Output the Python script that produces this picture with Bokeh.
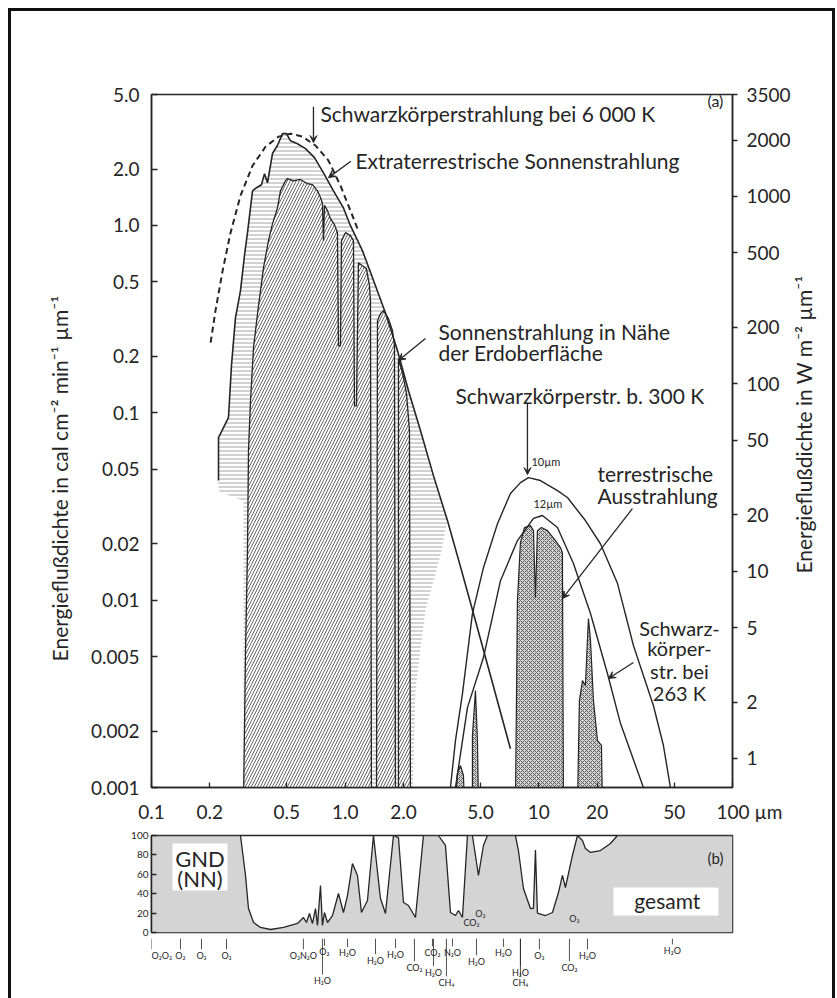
import math
from bokeh.plotting import figure
from bokeh.models import (Range1d, LogScale, LogAxis, FixedTicker, Label,
                          Arrow, VeeHead, BoxAnnotation, ColumnDataSource)
from bokeh.layouts import column
from bokeh.core.properties import value
from bokeh.embed import file_html
from bokeh.resources import INLINE

INK = "#252525"
FONT = "Lato"
W_PER_CAL = 700.0      # 1 cal cm^-2 min^-1 ~ 700 W m^-2
BASE = 0.0008          # "no flux" level, just below the axis floor
NB = "\u00a0"

# ---------------- spectra (wavelength in um, flux in cal cm^-2 min^-1 um^-1) ----------------
bb6000_wl = [0.202, 0.214, 0.233, 0.256, 0.288, 0.332, 0.388, 0.453, 0.522, 0.602, 0.703,
             0.820, 0.946, 1.065, 1.158]
bb6000_val = [0.237, 0.351, 0.574, 0.915, 1.44, 2.08, 2.63, 2.98, 3.09, 2.98, 2.67,
              2.22, 1.63, 1.20, 0.961]

extra_wl = [0.2218, 0.2218, 0.2497, 0.2527, 0.2588, 0.2715, 0.2881, 0.302, 0.3131, 0.3324,
            0.3484, 0.3697, 0.3833, 0.3972, 0.4214, 0.4470, 0.4746, 0.4977, 0.5219, 0.5673,
            0.6237, 0.6944, 0.7727, 0.8700, 0.9800, 1.065, 1.228, 1.434, 1.634, 1.862,
            2.123, 2.448, 2.857, 3.374, 3.938, 4.596, 5.626, 7.136]
extra_val = [0.0435, 0.0737, 0.0943, 0.116, 0.179, 0.322, 0.449, 0.690, 0.915, 1.53,
             1.59, 1.65, 1.89, 1.69, 2.42, 2.67, 3.09, 3.09, 2.83, 2.73,
             2.57, 2.30, 1.91, 1.53, 1.24, 0.997, 0.734, 0.477, 0.330, 0.215,
             0.131, 0.0804, 0.0462, 0.0266, 0.0151, 0.00848, 0.00396, 0.00161]

# lower edge of the hatched extraterrestrial surplus
extra_lower_wl = [3.105, 2.598, 2.307, 2.226, 0.2985, 0.2985, 0.2651, 0.2218]
extra_lower_val = [0.0173, 0.0088, 0.00329, BASE, BASE, 0.0340, 0.0353, 0.0384]

surface_wl = [0.2985, 0.3058, 0.3131, 0.3168, 0.3245, 0.3364, 0.3527, 0.3788, 0.4018, 0.4214,
              0.4470, 0.4634, 0.4918, 0.5036, 0.5410, 0.5877, 0.6389, 0.6781, 0.7194, 0.7458,
              0.7633, 0.7727, 0.7818, 0.8104, 0.8399, 0.8806, 0.9124, 0.9235, 0.9456, 0.9570,
              1.0035, 1.0650, 1.1037, 1.117, 1.144, 1.171, 1.228, 1.288, 1.335, 1.351,
              1.367, 1.451, 1.4685, 1.5217, 1.5771, 1.673, 1.755, 1.797, 1.8186, 1.8845,
              1.8845, 1.976, 2.073, 2.148, 2.1733]
surface_val = [BASE, 0.00538, 0.0184, 0.0629, 0.116, 0.223, 0.338, 0.596, 0.830, 1.02,
               1.24, 1.53, 1.73, 1.78, 1.73, 1.76, 1.67, 1.65, 1.53, 1.41,
               1.31, 0.830, 1.28, 1.20, 1.087, 1.01, 0.915, 0.228, 0.228, 0.830,
               0.915, 0.882, 0.830, 0.109, 0.109, 0.633, 0.610, 0.588, 0.477, 0.397,
               BASE, BASE, 0.310, 0.338, 0.351, 0.318, 0.275, 0.228, BASE, BASE,
               0.195, 0.164, 0.127, 0.0804, BASE]

terr_wl = [[3.711, 3.80, 3.938, 4.081, 4.13],
           [4.541, 4.541, 4.707, 4.82, 4.878],
           [7.5716, 7.7536, 8.035, 8.43, 9.05, 9.38, 9.607, 9.835, 10.31, 11.08, 12.18, 12.93,
            13.24, 13.40],
           [15.83, 16.20, 16.80, 17.40, 17.82, 18.04, 18.48, 19.14, 20.08, 21.05, 21.30]]
terr_val = [[BASE, 0.0012, 0.00131, 0.00116, BASE],
            [BASE, 0.0019, 0.00329, 0.00178, BASE],
            [BASE, 0.00995, 0.0203, 0.0244, 0.0250, 0.0235, 0.0103, 0.0235, 0.0244, 0.0235,
             0.0208, 0.0191, 0.0179, BASE],
            [BASE, 0.00291, 0.00372, 0.0035, 0.00609, 0.00798, 0.00609, 0.00291, 0.00178,
             0.00168, BASE]]

bb300_wl = [3.4975, 3.711, 4.033, 4.541, 5.176, 6.115, 7.136, 8.035, 8.840, 10.19, 12.48,
            14.05, 17.40, 20.80, 25.47, 30.79, 39.04, 43.97, 47.80]
bb300_val = [0.001, 0.00178, 0.00317, 0.00848, 0.0149, 0.0256, 0.0371, 0.0424, 0.0451, 0.0435,
             0.0384, 0.0353, 0.0266, 0.0200, 0.0123, 0.00573, 0.00274, 0.00168, 0.001]

bb263_wl = [3.711, 4.280, 5.176, 6.339, 7.754, 9.3815, 10.44, 12.48, 15.09, 18.48, 22.61,
            26.39, 34.67]
bb263_val = [0.001, 0.00267, 0.00494, 0.0127, 0.0208, 0.0273, 0.0283, 0.0244, 0.0157, 0.00848,
             0.00406, 0.00220, 0.001]

x_ticks = [0.1, 0.2, 0.5, 1, 2, 5, 10, 20, 50, 100]
x_tick_labels = ["0.1", "0.2", "0.5", "1.0", "2.0", "5.0", "10", "20", "50", NB * 7 + "100 µm"]
y_ticks = [0.001, 0.002, 0.005, 0.01, 0.02, 0.05, 0.1, 0.2, 0.5, 1, 2, 5]
y_tick_labels = ["0.001", "0.002", "0.005", "0.01", "0.02", "0.05", "0.1", "0.2", "0.5",
                 "1.0", "2.0", "5.0"]
w_ticks = [1, 2, 5, 10, 20, 50, 100, 200, 500, 1000, 2000, 3500]

# ---------------- atmospheric absorption (%) ----------------
absorb_wl = [0.1, 0.2881, 0.3058, 0.3168, 0.3364, 0.3655, 0.4116, 0.4803, 0.5673, 0.6092,
             0.6311, 0.6540, 0.6781, 0.7027, 0.7194, 0.7458, 0.7633, 0.7818, 0.8104, 0.8600,
             0.9235, 0.9800, 1.028, 1.0906, 1.1575, 1.214, 1.3038, 1.400, 1.5217, 1.6150,
             1.7758, 1.8845, 2.000, 2.1225, 2.3068, 2.5367, 3.0317, 3.2950, 3.4975, 3.711,
             3.846, 4.033, 4.2796, 4.5412, 4.8782, 5.1763, 5.4283, 7.5716, 7.8466, 8.3278,
             9.0523, 9.38, 9.607, 9.835, 10.82, 11.76, 12.63, 13.24, 13.72, 14.91,
             15.83, 16.80, 17.40, 18.48, 20.80, 23.43, 25.47, 100]
absorb_pct = [100, 100, 58.8, 24.7, 10.3, 5.2, 3.1, 5.2, 9.3, 15.5,
              10.3, 19.6, 9.3, 24.7, 7.2, 48.5, 7.2, 20.6, 10.3, 17.5,
              40.2, 20.6, 38.1, 71.1, 58.8, 20.6, 33.0, 100, 35.1, 19.6,
              100, 97.9, 30.9, 27.8, 15.5, 100, 100, 89.7, 20.6, 17.5,
              22.7, 15.5, 100, 100, 58.8, 89.7, 100, 100, 84.5, 45.4,
              24.7, 25, 85, 20, 17.5, 20.6, 41.2, 58.8, 46.4, 79.4,
              100, 94.8, 86.6, 82.5, 84.5, 91.8, 100, 100]

# absorbing gases below the panel: name, wavelength, row height, anchor
gas_names = ["O₂O₃", "O₂", "O₃", "O₃", "O₃N₂O", "O₂", "H₂O", "H₂O", "H₂O", "H₂O", "CO₂",
             "CO₂", "N₂O", "H₂O", "CH₄", "H₂O", "H₂O", "H₂O", "CH₄", "O₃", "CO₂", "H₂O", "H₂O"]
gas_wl = [0.1, 0.1411, 0.1812, 0.2439, 0.6086, 0.7818, 0.7633, 1.028, 1.434, 1.8186, 2.279,
          2.823, 3.581, 2.857, 3.334, 4.764, 6.566, 8.035, 8.035, 10.07, 14.39, 17.82, 48.95]
gas_row = [0.72, 0.72, 0.72, 0.72, 0.72, 0.78, 0.30, 0.76, 0.64, 0.74, 0.52,
           0.77, 0.77, 0.44, 0.27, 0.62, 0.76, 0.44, 0.27, 0.72, 0.52, 0.72, 0.80]
gas_align = ["left"] + ["center"] * 22
gas_in_names = ["CO₂", "O₃", "O₃"]
gas_in_wl = [4.487, 4.995, 15.27]
gas_in_pct = [10.3, 19.6, 14.4]


def style_axis(ax, size="19px"):
    ax.axis_line_color = INK
    ax.axis_line_width = 1.5
    ax.major_tick_line_color = INK
    ax.major_tick_line_width = 1.3
    ax.minor_tick_line_color = None
    ax.major_label_text_font = FONT
    ax.major_label_text_font_size = size
    ax.major_label_text_color = INK
    ax.axis_label_text_font = FONT
    ax.axis_label_text_font_style = "normal"
    ax.axis_label_text_color = INK


# ---------------- main panel (a) ----------------
p = figure(width=837, height=830, x_axis_type="log", y_axis_type="log",
           x_range=Range1d(0.1, 100), y_range=Range1d(0.001, 5.0),
           output_backend="svg", toolbar_location=None,
           min_border_left=151, min_border_right=105, min_border_top=94, min_border_bottom=43)
p.grid.visible = False
p.outline_line_color = INK
p.outline_line_width = 1.5
p.background_fill_color = "white"
p.border_fill_color = "white"

xa = p.xaxis[0]
style_axis(xa)
xa.ticker = FixedTicker(ticks=x_ticks, minor_ticks=[])
xa.major_label_overrides = dict(zip(x_ticks, x_tick_labels))
xa.major_tick_in = 5
xa.major_tick_out = 0
xa.major_label_standoff = 12

ya = p.yaxis[0]
style_axis(ya)
ya.ticker = FixedTicker(ticks=y_ticks, minor_ticks=[])
ya.major_label_overrides = dict(zip(y_ticks, y_tick_labels))
ya.major_tick_in = 6
ya.major_tick_out = 0
ya.major_label_standoff = 12
ya.axis_label = "Energieflußdichte in cal cm⁻² min⁻¹ µm⁻¹" + NB * 14
ya.axis_label_text_font_size = "21px"
ya.axis_label_standoff = 16

p.extra_y_ranges = {"w": Range1d(0.001 * W_PER_CAL, 5.0 * W_PER_CAL)}
p.extra_y_scales = {"w": LogScale()}
ra = LogAxis(y_range_name="w", ticker=FixedTicker(ticks=w_ticks, minor_ticks=[]))
style_axis(ra)
ra.major_label_overrides = {t: str(t) for t in w_ticks}
ra.major_tick_in = 0
ra.major_tick_out = 5
ra.major_label_standoff = 9
p.add_layout(ra, "right")

# title of the W m^-2 scale: one rotated label that starts low on the side and reads upwards
W_TITLE_AT = 9.7
ra_title = LogAxis(y_range_name="w", ticker=FixedTicker(ticks=[W_TITLE_AT], minor_ticks=[]))
style_axis(ra_title, size="21px")
ra_title.axis_line_color = None
ra_title.major_tick_line_color = None
ra_title.major_tick_in = 0
ra_title.major_tick_out = 0
ra_title.major_label_standoff = 10
ra_title.major_label_orientation = math.pi / 2
ra_title.major_label_overrides = {W_TITLE_AT: "Energieflußdichte in W m⁻² µm⁻¹"}
p.add_layout(ra_title, "right")

# extraterrestrial surplus (horizontal hatching)
cut = [i for i, w in enumerate(extra_wl) if w <= 3.4]
p.patch([extra_wl[i] for i in cut] + extra_lower_wl,
        [extra_val[i] for i in cut] + extra_lower_val,
        fill_color="white", fill_alpha=0.0, line_color=None,
        hatch_pattern="horizontal_line", hatch_scale=4, hatch_weight=0.8, hatch_color="#8c8c8c")

# radiation reaching the surface (diagonal hatching)
p.patch(surface_wl, surface_val, fill_color="white", line_color=INK, line_width=1.3,
        hatch_pattern="right_diagonal_line", hatch_scale=6, hatch_weight=0.9, hatch_color="#555555")

# terrestrial emission (dense cross hatching)
p.patches(terr_wl, terr_val, fill_color="#d6d6d6", line_color=INK, line_width=1.2,
          hatch_pattern="diagonal_cross", hatch_scale=4, hatch_weight=0.9, hatch_color="#505050")

p.line(extra_wl, extra_val, line_color=INK, line_width=1.6)
p.line(bb6000_wl, bb6000_val, line_color=INK, line_width=2.0, line_dash="6 4")
p.line(bb300_wl, bb300_val, line_color=INK, line_width=1.4)
p.line(bb263_wl, bb263_val, line_color=INK, line_width=1.4)


def label(x, y, text, size="21px", align="left"):
    p.add_layout(Label(x=x, y=y, text=text, text_font=FONT, text_font_size=size,
                       text_color=INK, text_align=align, text_baseline="middle"))


def arrow(x0, y0, x1, y1):
    p.add_layout(Arrow(x_start=x0, y_start=y0, x_end=x1, y_end=y1, line_color=INK,
                       line_width=1.3,
                       end=VeeHead(size=7, line_color=INK, fill_color=INK, line_width=1)))


label(0.7456, 3.95, "Schwarzkörperstrahlung bei 6 000 K")
arrow(0.686, 4.30, 0.686, 2.77)
label(1.130, 2.22, "Extraterrestrische Sonnenstrahlung")
arrow(1.07, 2.20, 0.82, 1.80)
label(3.032, 0.2713, "Sonnenstrahlung in Nähe")
label(3.032, 0.2096, "der Erdoberfläche")
arrow(2.598, 0.249, 1.8845, 0.190)
label(3.710, 0.1235, "Schwarzkörperstr. b. 300 K")
arrow(8.735, 0.1133, 8.735, 0.0468)
label(9.16, 0.0549, "10µm", size="11px")
label(9.38, 0.0328, "12µm", size="11px")
label(20.08, 0.0474, "terrestrische")
label(20.08, 0.0361, "Ausstrahlung")
arrow(30.42, 0.0308, 13.24, 0.0102)
for txt, yy in zip(["Schwarz-", "körper-", "str. bei", "263 K"], [0.00714, 0.00552, 0.00421, 0.00321]):
    label(53.2, yy, txt, size="20px", align="center")
arrow(30.79, 0.00465, 22.88, 0.00382)
label(81.6, 4.63, "(a)", size="16px", align="center")

# ---------------- absorption panel (b) ----------------
p2 = figure(width=837, height=108, x_axis_type="log", x_range=p.x_range,
            y_range=Range1d(0, 100), output_backend="svg", toolbar_location=None,
            min_border_left=151, min_border_right=105, min_border_top=5, min_border_bottom=6)
p2.grid.visible = False
p2.outline_line_color = INK
p2.outline_line_width = 1.5
p2.xaxis.visible = False
p2.border_fill_color = "white"
ya2 = p2.yaxis[0]
style_axis(ya2, size="10px")
ya2.ticker = FixedTicker(ticks=[0, 20, 40, 60, 80, 100], minor_ticks=[])
ya2.major_tick_in = 5
ya2.major_tick_out = 0
ya2.major_label_standoff = 3

p2.varea(x=absorb_wl, y1=0, y2=absorb_pct, fill_color="#d4d4d4")
p2.line(absorb_wl, absorb_pct, line_color=INK, line_width=1.3)

p2.add_layout(BoxAnnotation(left=0.1283, right=0.2469, bottom=43.3, top=91.8,
                            fill_color="white", fill_alpha=1, line_color=None))
p2.add_layout(BoxAnnotation(left=24.28, right=84.6, bottom=17.5, top=46.4,
                            fill_color="white", fill_alpha=1, line_color=None))
for txt, yy in [("GND", 76), ("(NN)", 55.7)]:
    p2.add_layout(Label(x=0.178, y=yy, text=txt, text_font=FONT, text_font_size="22px",
                        text_color=INK, text_align="center", text_baseline="middle"))
p2.add_layout(Label(x=46.1, y=33, text="gesamt", text_font=FONT, text_font_size="21px",
                    text_color=INK, text_align="center", text_baseline="middle"))
p2.add_layout(Label(x=81.6, y=77, text="(b)", text_font=FONT, text_font_size="15px",
                    text_color=INK, text_align="center", text_baseline="middle"))
p2.text(x=gas_in_wl, y=gas_in_pct, text=gas_in_names, text_font=value(FONT),
        text_font_size="9px", text_color=INK, text_align="center", text_baseline="middle")

# ---------------- gas labels strip ----------------
p3 = figure(width=837, height=60, x_axis_type="log", x_range=p.x_range,
            y_range=Range1d(0, 1), output_backend="svg", toolbar_location=None,
            min_border_left=151, min_border_right=105, min_border_top=0, min_border_bottom=0)
p3.grid.visible = False
p3.axis.visible = False
p3.outline_line_color = None
gsrc = ColumnDataSource(dict(x=gas_wl, y=gas_row, name=gas_names, align=gas_align,
                             top=[1.0] * len(gas_wl), end=[r + 0.1 for r in gas_row]))
p3.segment(x0="x", y0="top", x1="x", y1="end", source=gsrc, line_color=INK, line_width=0.8)
p3.text(x="x", y="y", text="name", source=gsrc, text_font=value(FONT), text_font_size="9px",
        text_color=INK, text_align="align", text_baseline="middle")

frame_css = """
:host { position: relative; }
:host::after { content: ''; position: absolute; left: 8px; top: 8px; width: 827px;
  height: 1010px; border: 3px solid #111; box-sizing: border-box; pointer-events: none; }
"""
layout = column(p, p2, p3, stylesheets=[frame_css])

open("out.html", "w").write(file_html(layout, INLINE))
